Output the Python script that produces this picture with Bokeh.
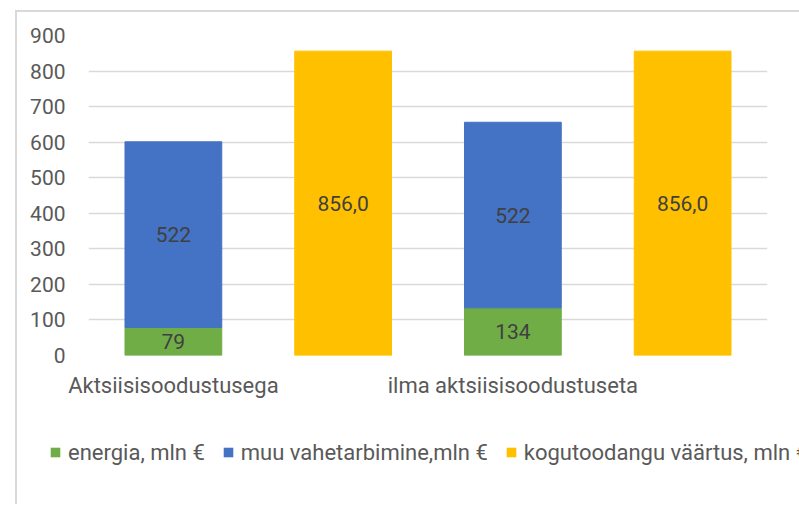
from bokeh.plotting import figure
from bokeh.models import ColumnDataSource, Range1d, FixedTicker, Legend, LegendItem, LabelSet, Spacer
from bokeh.layouts import column, row
from bokeh.core.properties import value
from bokeh.embed import file_html
from bokeh.resources import INLINE

# ---- data ----
categories = ["Aktsiisisoodustusega", "ilma aktsiisisoodustuseta"]
energia = [79, 134]
muu_vahetarbimine = [522, 522]
kogutoodang = [856.0, 856.0]
series_names = ["energia, mln €", "muu vahetarbimine,mln €", "kogutoodangu väärtus, mln €"]
y_ticks = [0, 100, 200, 300, 400, 500, 600, 700, 800, 900]

GREEN = "#70AD47"
BLUE = "#4472C4"
YELLOW = "#FFC000"
TXT = "#595959"
LBL = "#404040"
FONT = "Roboto"

idx = list(range(len(categories)))
x_stack = [2 * i for i in idx]
x_total = [2 * i + 1 for i in idx]

stack_src = ColumnDataSource(dict(
    x=x_stack,
    energia=energia,
    muu=muu_vahetarbimine,
    top_muu=[e + m for e, m in zip(energia, muu_vahetarbimine)],
    y_e=[e / 2 for e in energia],
    y_m=[e + m / 2 for e, m in zip(energia, muu_vahetarbimine)],
    t_e=[str(e) for e in energia],
    t_m=[str(m) for m in muu_vahetarbimine],
))
total_src = ColumnDataSource(dict(
    x=x_total,
    top=kogutoodang,
    y=[v / 2 for v in kogutoodang],
    t=[f"{v:.1f}".replace(".", ",") for v in kogutoodang],
))

# ---- main chart ----
p = figure(width=782, height=400, output_backend="svg", toolbar_location=None,
           x_range=Range1d(-0.5, 2 * len(categories) - 0.5), y_range=Range1d(0, 900),
           min_border_left=71, min_border_right=32, min_border_top=23, min_border_bottom=57)
p.frame_align = False
p.outline_line_color = None
p.background_fill_color = "white"
p.border_fill_color = "white"

W = 0.57
p.vbar(x="x", bottom=0, top="energia", width=W, color=GREEN, source=stack_src)
p.vbar(x="x", bottom="energia", top="top_muu", width=W, color=BLUE, source=stack_src)
p.vbar(x="x", bottom=0, top="top", width=W, color=YELLOW, source=total_src)

for ycol, tcol, src in [("y_e", "t_e", stack_src), ("y_m", "t_m", stack_src), ("y", "t", total_src)]:
    ls = LabelSet(x="x", y=ycol, text=tcol, source=src, text_align="center",
                  text_baseline="middle", text_font=value(FONT), text_font_size=value("21px"),
                  text_color=LBL)
    p.add_layout(ls)

p.xaxis.ticker = FixedTicker(ticks=x_stack)
p.xaxis.major_label_overrides = {x: c for x, c in zip(x_stack, categories)}
p.xaxis.major_label_text_font = FONT
p.xaxis.major_label_text_font_size = "22px"
p.xaxis.major_label_text_color = TXT
p.xaxis.major_label_standoff = 11
p.xaxis.axis_line_color = None
p.xaxis.major_tick_line_color = None
p.xaxis.minor_tick_line_color = None

p.yaxis.ticker = FixedTicker(ticks=y_ticks)
p.yaxis.major_label_text_font = FONT
p.yaxis.major_label_text_font_size = "21px"
p.yaxis.major_label_text_color = TXT
p.yaxis.major_label_standoff = 17
p.yaxis.axis_line_color = None
p.yaxis.major_tick_line_color = None
p.yaxis.minor_tick_line_color = None

p.xgrid.grid_line_color = None
p.ygrid.grid_line_color = "#d9d9d9"
p.ygrid.grid_line_width = 1.5

# ---- legend strip (hidden copies of the series, only their legend swatches show) ----
pl = figure(width=782, height=92, output_backend="svg", toolbar_location=None,
            x_range=Range1d(-0.5, 2 * len(categories) - 0.5), y_range=Range1d(-20000, -19999),
            x_axis_location=None, y_axis_location=None,
            min_border_left=0, min_border_right=0, min_border_top=0, min_border_bottom=0)
pl.frame_align = False
pl.outline_line_color = None
pl.grid.visible = False
pl.background_fill_color = "white"
pl.border_fill_color = "white"
l_e = pl.vbar(x="x", bottom=0, top="energia", width=W, fill_color=GREEN, line_color=None, source=stack_src)
l_m = pl.vbar(x="x", bottom="energia", top="top_muu", width=W, fill_color=BLUE, line_color=None, source=stack_src)
l_t = pl.vbar(x="x", bottom=0, top="top", width=W, fill_color=YELLOW, line_color=None, source=total_src)
for r in (l_e, l_m, l_t):
    r.visible = False

LH = 26
legend = Legend(items=[LegendItem(label=n, renderers=[r]) for n, r in zip(series_names, [l_e, l_m, l_t])],
                location=(32, 39), orientation="horizontal",
                glyph_width=12, glyph_height=12, label_standoff=7, spacing=17,
                padding=0, margin=0, border_line_color=None, background_fill_alpha=0,
                label_text_font=FONT, label_text_font_size="22px", label_text_color=TXT,
                label_height=LH)
pl.add_layout(legend, "center")

box = column(p, pl, spacing=0)
box.styles = {"border-top": "2px solid #d9d9d9", "border-left": "2px solid #d9d9d9"}
layout = row(Spacer(width=15), column(Spacer(height=10), box, spacing=0), spacing=0)

open("out.html", "w").write(file_html(layout, INLINE))
